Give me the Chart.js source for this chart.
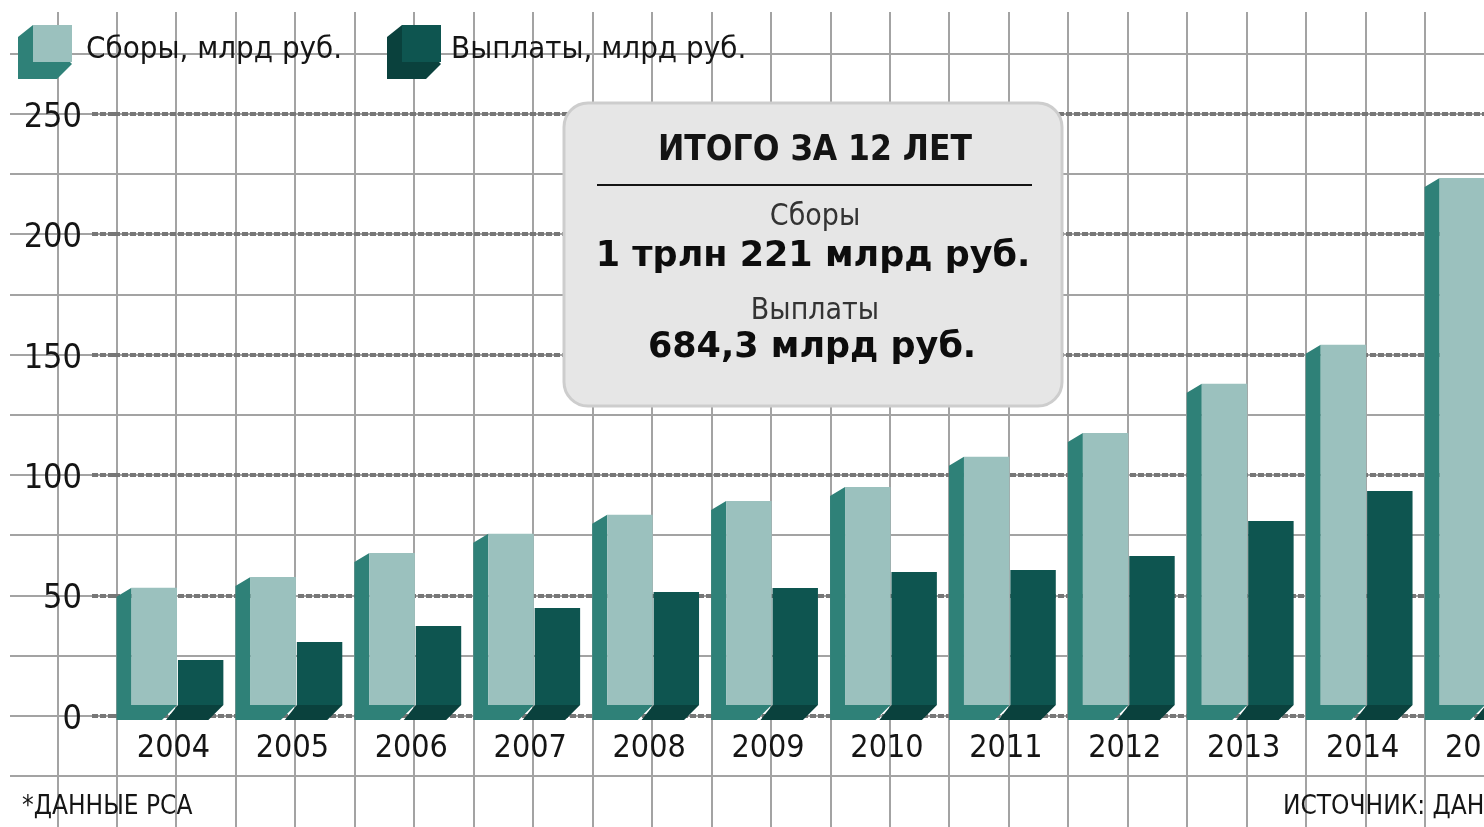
<!DOCTYPE html>
<html>
<head>
<meta charset="utf-8">
<script src="https://cdn.jsdelivr.net/npm/chart.js@4.4.1/dist/chart.umd.min.js"></script>
<style>
html, body { margin: 0; padding: 0; background: #fff; overflow: hidden; }
#wrap { width: 1544px; height: 827px; }
</style>
</head>
<body>
<div id="wrap"><canvas id="chart" width="1544" height="827"></canvas></div>
<script>
// данные РСА, млрд руб.
var years = ['2004', '2005', '2006', '2007', '2008', '2009', '2010', '2011', '2012', '2013', '2014', '2015'];
var sbory = [49.5, 54.0, 64.0, 71.9, 79.8, 85.6, 91.4, 103.9, 113.8, 134.2, 150.4, 219.7];
var vyplaty = [19.5, 27.0, 33.6, 41.1, 47.8, 49.4, 56.1, 56.9, 62.7, 77.2, 89.7, 123.3];
var yTicks = [0, 50, 100, 150, 200, 250];
var seriesNames = ['Сборы, млрд руб.', 'Выплаты, млрд руб.'];
var boxTitle = 'ИТОГО ЗА 12 ЛЕТ';
var boxLines = ['Сборы', '1 трлн 221 млрд руб.', 'Выплаты', '684,3 млрд руб.'];
var noteLeft = '*ДАННЫЕ РСА';
var noteRight = 'ИСТОЧНИК: ДАННЫЕ РСА';

var NARROW = "'Liberation Sans Narrow', 'DejaVu Sans Condensed', sans-serif";
var HEAVY = "'DejaVu Sans', sans-serif";

var lightFront = '#9bc1be', lightSide = '#2f8178';
var darkFront = '#0e5550', darkSide = '#0a413d';
var DEPTH = 15, SHIFT_X = 4, LIFT = 9;

// фон в клетку + объем столбцов + рамка + подписи
var decorPlugin = {
    id: 'decor',
    beforeDraw: function(chart) {
        var ctx = chart.ctx, xs = chart.scales.x, ys = chart.scales.y;
        ctx.save();
        ctx.fillStyle = '#fff';
        ctx.fillRect(0, 0, chart.width, chart.height);
        ctx.strokeStyle = '#a3a3a3';
        ctx.lineWidth = 2;
        for (var i = -2; i < 30; i++) {
            var x = Math.round(xs.getPixelForValue(i * 0.5 - 0.5) + 3);
            if (x < 5 || x > chart.width) continue;
            ctx.beginPath(); ctx.moveTo(x, 12); ctx.lineTo(x, chart.height); ctx.stroke();
        }
        for (var v = -50; v <= 300; v += 25) {
            var y = Math.round(ys.getPixelForValue(v));
            if (y < 10 || y > chart.height) continue;
            ctx.beginPath(); ctx.moveTo(10, y); ctx.lineTo(chart.width, y); ctx.stroke();
        }
        ctx.restore();
    },
    beforeDatasetsDraw: function(chart) {
        var ctx = chart.ctx;
        ctx.save();
        ctx.translate(SHIFT_X, -LIFT);
        var light = chart.getDatasetMeta(0), dark = chart.getDatasetMeta(1);
        light.data.forEach(function(bar) {
            var p = bar.getProps(['x', 'y', 'base', 'width'], true);
            var l = p.x - p.width / 2, r = p.x + p.width / 2;
            ctx.fillStyle = lightSide;
            ctx.beginPath();
            ctx.moveTo(l, p.y);
            ctx.lineTo(l - DEPTH, p.y + 9);
            ctx.lineTo(l - DEPTH, p.base + DEPTH);
            ctx.lineTo(r - DEPTH, p.base + DEPTH);
            ctx.lineTo(r, p.base);
            ctx.lineTo(l, p.base);
            ctx.closePath();
            ctx.fill();
        });
        dark.data.forEach(function(bar) {
            var p = bar.getProps(['x', 'y', 'base', 'width'], true);
            var l = p.x - p.width / 2, r = p.x + p.width / 2;
            ctx.fillStyle = darkSide;
            ctx.beginPath();
            ctx.moveTo(l, p.base);
            ctx.lineTo(r, p.base);
            ctx.lineTo(r - DEPTH, p.base + DEPTH);
            ctx.lineTo(l - DEPTH + 3, p.base + DEPTH);
            ctx.closePath();
            ctx.fill();
        });
    },
    afterDatasetsDraw: function(chart) {
        chart.ctx.restore();
    },
    afterDraw: function(chart) {
        var ctx = chart.ctx;
        ctx.save();

        // легенда
        var cubes = [[33, lightFront, lightSide, 86], [402, darkFront, darkSide, 451]];
        cubes.forEach(function(c, i) {
            var fx = c[0], fy = 25, s = 39;
            ctx.fillStyle = c[2];
            ctx.beginPath();
            ctx.moveTo(fx, fy);
            ctx.lineTo(fx - DEPTH, fy + 12);
            ctx.lineTo(fx - DEPTH, fy + s + DEPTH);
            ctx.lineTo(fx + s - DEPTH, fy + s + DEPTH);
            ctx.lineTo(fx + s, fy + s);
            ctx.closePath();
            ctx.fill();
            ctx.fillStyle = c[1];
            ctx.fillRect(fx, fy, s, s - 2);
            ctx.fillStyle = '#151515';
            ctx.font = '31px ' + NARROW;
            ctx.textAlign = 'left';
            ctx.textBaseline = 'middle';
            ctx.fillText(chart.data.datasets[i].label, c[3], 50);
        });

        // итоговая плашка
        ctx.beginPath();
        ctx.roundRect(564, 103, 498, 303, 24);
        ctx.fillStyle = '#e6e6e6';
        ctx.fill();
        ctx.lineWidth = 3;
        ctx.strokeStyle = '#cdcdcd';
        ctx.stroke();

        ctx.fillStyle = '#141414';
        ctx.textAlign = 'center';
        ctx.textBaseline = 'middle';
        ctx.font = 'bold 35px ' + NARROW;
        ctx.fillText(boxTitle, 815, 151);
        ctx.fillRect(597, 184, 435, 2);

        ctx.fillStyle = '#333';
        ctx.font = '30px ' + NARROW;
        ctx.fillText(boxLines[0], 815, 217);
        ctx.fillText(boxLines[2], 815, 311);
        ctx.fillStyle = '#0d0d0d';
        ctx.font = 'bold 35px ' + HEAVY;
        ctx.fillText(boxLines[1], 813, 257);
        ctx.fillText(boxLines[3], 812, 348);

        // подписи внизу
        ctx.fillStyle = '#151515';
        ctx.font = '26px ' + NARROW;
        ctx.textAlign = 'left';
        ctx.fillText(noteLeft, 22, 807);
        ctx.fillText(noteRight, 1283, 807);
        ctx.restore();
    }
};

var ctx = document.getElementById('chart').getContext('2d');
var chartObj = new Chart(ctx, {
    type: 'bar',
    data: {
        labels: years,
        datasets: [{
            label: seriesNames[0],
            data: sbory,
            backgroundColor: lightFront,
            borderWidth: 0,
            categoryPercentage: 0.78,
            barPercentage: 0.98
        }, {
            label: seriesNames[1],
            data: vyplaty,
            backgroundColor: darkFront,
            borderWidth: 0,
            categoryPercentage: 0.78,
            barPercentage: 0.98
        }]
    },
    options: {
        responsive: false,
        animation: false,
        devicePixelRatio: 1,
        layout: { padding: { top: 114, bottom: 51, left: 0, right: 3 } },
        plugins: {
            legend: { display: false },
            tooltip: { enabled: false }
        },
        scales: {
            x: {
                grid: { display: false, drawTicks: false },
                border: { display: false },
                ticks: {
                    padding: 13,
                    color: '#151515',
                    font: { family: NARROW, size: 32 }
                },
                afterFit: function(scale) { scale.height = 60; }
            },
            y: {
                min: 0,
                max: 250,
                afterBuildTicks: function(scale) {
                    scale.ticks = yTicks.map(function(v) { return { value: v }; });
                },
                grid: {
                    color: '#777',
                    lineWidth: 4,
                    tickLength: 22,
                    tickBorderDash: [6, 2]
                },
                border: { display: false, dash: [6, 2] },
                ticks: {
                    padding: 10,
                    labelOffset: 4,
                    color: '#151515',
                    font: { family: NARROW, size: 34 }
                },
                afterFit: function(scale) { scale.width = 114; }
            }
        }
    },
    plugins: [decorPlugin]
});
</script>
</body>
</html>
